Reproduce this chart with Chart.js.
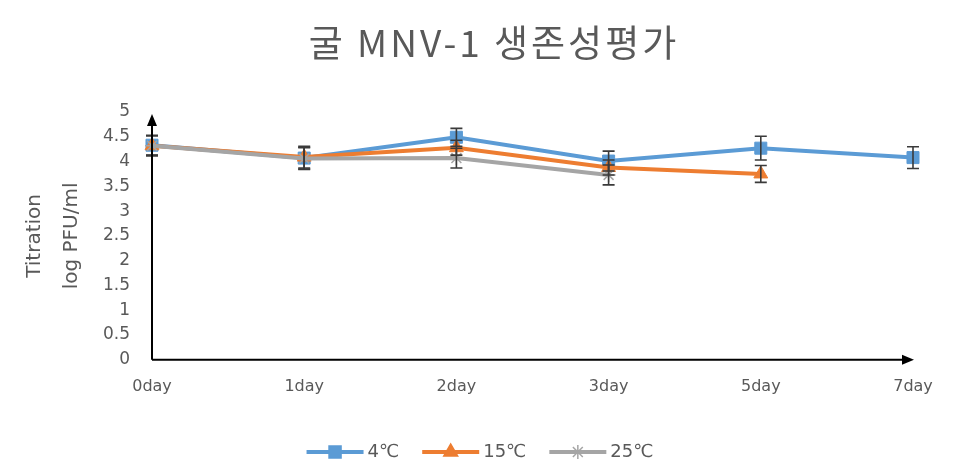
<!DOCTYPE html>
<html>
<head>
<meta charset="utf-8">
<script src="https://cdn.jsdelivr.net/npm/chart.js@4/dist/chart.umd.min.js"></script>
<style>
html,body{margin:0;padding:0;background:#fff;}
#wrap{width:969px;height:468px;position:relative;}
</style>
</head>
<body>
<div id="wrap"><canvas id="c" width="969" height="468"></canvas></div>
<script>
const categories = ['0day', '1day', '2day', '3day', '5day', '7day'];
const seriesNames = ['4℃', '15℃', '25℃'];
const values4 = [4.33, 4.07, 4.49, 4.01, 4.27, 4.08];
const values15 = [4.32, 4.09, 4.28, 3.88, 3.75, null];
const values25 = [4.32, 4.06, 4.07, 3.73, null, null];
const err4 = [0.2, 0.22, 0.18, 0.2, 0.24, 0.22];
const err15 = [0.2, 0.22, 0.15, 0.15, 0.17, null];
const err25 = [0.2, 0.22, 0.2, 0.2, null, null];
const yTicks = [0, 0.5, 1, 1.5, 2, 2.5, 3, 3.5, 4, 4.5, 5];
const chartTitle = '굴 MNV-1 생존성평가';
const yTitle = ['Titration', 'log PFU/ml'];

const colors = ['#5B9BD5', '#ED7D31', '#A5A5A5'];
const pointStyles = ['rect', 'triangle', 'star'];
const pointRadii = [8.5, 8, 7];
const allValues = [values4, values15, values25];
const allErr = [err4, err15, err25];
const FONT = "'DejaVu Sans', 'Noto Sans CJK KR', sans-serif";
const TFONT = "'Noto Sans CJK KR', 'DejaVu Sans', sans-serif";
const TXT = '#595959';

const datasets = allValues.map((vals, i) => ({
  label: seriesNames[i],
  data: vals,
  errors: allErr[i],
  borderColor: colors[i],
  backgroundColor: colors[i],
  borderWidth: 4,
  pointStyle: pointStyles[i],
  pointRadius: pointRadii[i],
  pointBorderWidth: i === 2 ? 1.5 : 1,
  pointBackgroundColor: colors[i],
  pointBorderColor: colors[i],
  tension: 0,
  spanGaps: false,
  order: 2 - i
}));

const errorBarPlugin = {
  id: 'errorBars',
  afterDatasetsDraw(chart) {
    const ctx = chart.ctx;
    const x = chart.scales.x, y = chart.scales.y;
    ctx.save();
    ctx.strokeStyle = '#3a3a3a';
    ctx.lineWidth = 1.6;
    chart.data.datasets.forEach((ds) => {
      ds.data.forEach((v, j) => {
        const e = ds.errors[j];
        if (v == null || e == null) return;
        const px = x.getPixelForValue(j);
        const top = y.getPixelForValue(v + e);
        const bot = y.getPixelForValue(v - e);
        ctx.beginPath();
        ctx.moveTo(px, top); ctx.lineTo(px, bot);
        ctx.moveTo(px - 6, top); ctx.lineTo(px + 6, top);
        ctx.moveTo(px - 6, bot); ctx.lineTo(px + 6, bot);
        ctx.stroke();
      });
    });
    ctx.restore();
  }
};

const decorPlugin = {
  id: 'decor',
  afterDraw(chart) {
    const ctx = chart.ctx;
    const a = chart.chartArea;
    ctx.save();
    // axes with arrows
    ctx.strokeStyle = '#000';
    ctx.fillStyle = '#000';
    ctx.lineWidth = 2;
    ctx.beginPath();
    ctx.moveTo(a.left, a.bottom); ctx.lineTo(a.left, a.top + 8);
    ctx.moveTo(a.left, a.bottom); ctx.lineTo(a.right - 6, a.bottom);
    ctx.stroke();
    ctx.beginPath();
    ctx.moveTo(a.left, a.top + 2); ctx.lineTo(a.left - 5, a.top + 14); ctx.lineTo(a.left + 5, a.top + 14); ctx.closePath();
    ctx.fill();
    ctx.beginPath();
    ctx.moveTo(a.right + 1, a.bottom); ctx.lineTo(a.right - 11, a.bottom - 5); ctx.lineTo(a.right - 11, a.bottom + 5); ctx.closePath();
    ctx.fill();

    // title
    ctx.fillStyle = TXT;
    ctx.font = "37px " + TFONT;
    ctx.letterSpacing = '3px';
    ctx.textAlign = 'center';
    ctx.textBaseline = 'middle';
    ctx.fillText(chartTitle, 494, 43);
    ctx.letterSpacing = '0px';

    // legend
    ctx.font = "18px " + FONT;
    const lineW = 57, gapT = 4, gapItem = 23;
    const widths = seriesNames.map(s => lineW + gapT + ctx.measureText(s).width);
    const total = widths.reduce((p, c) => p + c, 0) + gapItem * (seriesNames.length - 1);
    let lx = 480 - total / 2;
    const ly = 452;
    seriesNames.forEach((s, i) => {
      ctx.strokeStyle = colors[i];
      ctx.fillStyle = colors[i];
      ctx.lineWidth = 4;
      ctx.beginPath();
      ctx.moveTo(lx, ly); ctx.lineTo(lx + lineW, ly);
      ctx.stroke();
      ctx.lineWidth = 1.5;
      Chart.helpers.drawPoint(ctx, {pointStyle: pointStyles[i], radius: pointRadii[i], borderWidth: 1.5}, lx + lineW / 2, ly);
      ctx.fillStyle = TXT;
      ctx.textAlign = 'left';
      ctx.textBaseline = 'middle';
      ctx.fillText(s, lx + lineW + gapT, ly);
      lx += widths[i] + gapItem;
    });
    ctx.restore();
  }
};

new Chart(document.getElementById('c'), {
  type: 'line',
  data: { labels: categories, datasets },
  plugins: [errorBarPlugin, decorPlugin],
  options: {
    responsive: false,
    animation: false,
    devicePixelRatio: 1,
    layout: { padding: { left: 0, right: 56, top: 112, bottom: 55 } },
    plugins: {
      title: { display: false },
      legend: { display: false },
      tooltip: { enabled: false }
    },
    scales: {
      x: {
        type: 'category',
        offset: false,
        grid: { display: false, drawTicks: false },
        border: { display: false },
        ticks: { color: TXT, font: { family: FONT, size: 16 }, padding: 17, maxRotation: 0, autoSkip: false }
      },
      y: {
        min: 0,
        max: 5,
        afterFit(scale) { scale.width = 152; },
        afterBuildTicks(scale) { scale.ticks = yTicks.map(v => ({ value: v })); },
        grid: { display: false, drawTicks: false },
        border: { display: false },
        ticks: { color: TXT, font: { family: FONT, size: 17 }, padding: 22, callback: (v) => String(v) },
        title: {
          display: true,
          text: yTitle,
          color: TXT,
          font: { family: FONT, size: 20, lineHeight: '37px' },
          padding: { top: 16, bottom: 0 }
        }
      }
    }
  }
});
</script>
</body>
</html>
